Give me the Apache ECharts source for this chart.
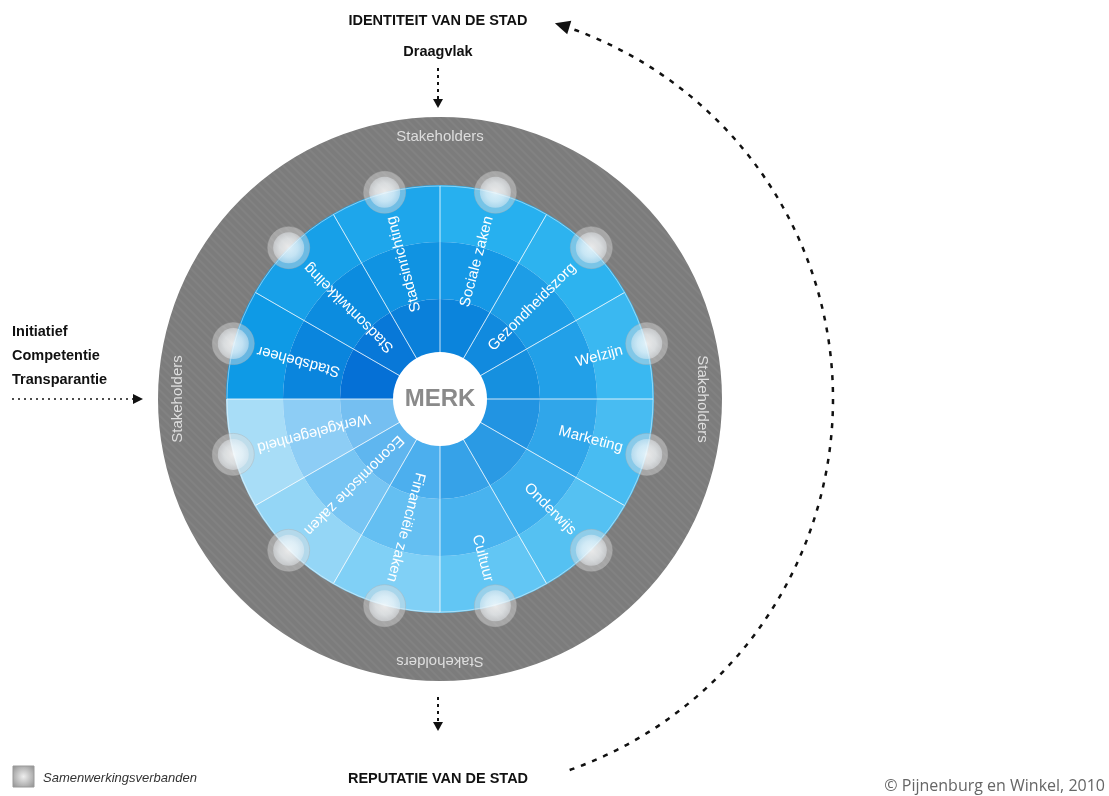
<!DOCTYPE html>
<html>
<head>
<meta charset="utf-8">
<script src="https://cdn.jsdelivr.net/npm/echarts@6/dist/echarts.min.js"></script>
<style>
  html, body { margin: 0; padding: 0; background: #ffffff; }
  #chart { width: 1109px; height: 796px; }
</style>
</head>
<body>
<div id="chart"></div>
<script>
// ---------- DATA ----------
const segments = ['Sociale zaken', 'Gezondheidszorg', 'Welzijn', 'Marketing', 'Onderwijs', 'Cultuur',
  'Financiële zaken', 'Economische zaken', 'Werkgelegenheid', 'Stadsbeheer', 'Stadsontwikkeling', 'Stadsinrichting'];
const segmentShare = [1, 1, 1, 1, 1, 1, 1, 1, 1, 1, 1, 1];
const stakeholderSides = ['Stakeholders', 'Stakeholders', 'Stakeholders', 'Stakeholders'];
const stakeholderShare = [1, 1, 1, 1];
const centerLabel = 'MERK';
const drivers = ['Initiatief', 'Competentie', 'Transparantie'];
const topTitle = 'IDENTITEIT VAN DE STAD';
const topSub = 'Draagvlak';
const bottomTitle = 'REPUTATIE VAN DE STAD';
const legendLabel = 'Samenwerkingsverbanden';
const credit = '\u00A9 Pijnenburg en Winkel, 2010';
// node level (one partnership node per segment, on the disc rim)
const nodeLevel = [214, 214, 214, 214, 214, 214, 214, 214, 214, 214, 214, 214];

// ---------- STYLE ----------
const innerColors = ['#0b84dc', '#118ade', '#1690df', '#2294e2', '#2a9ae4', '#36a2e8',
  '#4cafee', '#5fb6ef', '#75bff1', '#0570d6', '#0878d8', '#0a80da'];
const midColors = ['#1598e6', '#1d9de6', '#22a0e8', '#30a6ea', '#3caeed', '#48b3ef',
  '#64bff2', '#77c5f3', '#8dcdf5', '#0a85dd', '#0c8cdf', '#1093e2'];
const outerColors = ['#27b0ef', '#2db3ef', '#3ab8f1', '#48bcf2', '#55c1f2', '#62c6f4',
  '#80d0f6', '#94d6f6', '#a8ddf7', '#0e9ae6', '#17a0e8', '#1ea6eb'];

const CX = 440, CY = 399;
const FONT = '"Liberation Sans", Arial, Helvetica, sans-serif';

function band(name, radius, colors) {
  return {
    type: 'pie', name: name, silent: true, center: [CX, CY], radius: radius,
    startAngle: 90, clockwise: true, animation: false,
    label: { show: false }, labelLine: { show: false },
    data: segments.map((s, i) => ({ name: s, value: segmentShare[i], itemStyle: { color: colors[i] } }))
  };
}

const series = [
  {
    type: 'pie', name: 'ring', silent: true, center: [CX, CY], radius: [212, 282],
    startAngle: 90, animation: false, label: { show: false }, labelLine: { show: false },
    data: [{ name: 'ring', value: 1, itemStyle: {
      color: '#7c7c7c',
      decal: { symbol: 'rect', symbolSize: 1, dashArrayX: [1, 0], dashArrayY: [2, 4],
        rotation: Math.PI / 4, color: 'rgba(255,255,255,0.045)' }
    } }]
  },
  band('outer', [157, 214], outerColors),
  band('mid', [100, 157], midColors),
  band('inner', [46, 100], innerColors),
  {
    type: 'pie', name: 'dividers', silent: true, center: [CX, CY], radius: [46, 213],
    startAngle: 90, animation: false, label: { show: false }, labelLine: { show: false },
    itemStyle: { color: 'rgba(0,0,0,0)', borderColor: 'rgba(255,255,255,0.45)', borderWidth: 1 },
    data: segments.map((s, i) => ({ name: s, value: segmentShare[i] }))
  },
  {
    type: 'pie', name: 'labels', silent: true, center: [CX, CY], radius: [46, 186],
    startAngle: 90, animation: false, labelLine: { show: false },
    itemStyle: { color: 'rgba(0,0,0,0)' },
    label: {
      show: true, position: 'inside', formatter: '{t|{b}}',
      rich: { t: { width: 140, align: 'right', color: '#ffffff', fontSize: 15, fontFamily: FONT } }
    },
    data: segments.map((s, i) => ({
      name: s, value: segmentShare[i],
      label: { rotate: 90 - (15 + 30 * i) }
    }))
  },
  {
    type: 'pie', name: 'stakeholders', silent: true, center: [CX, CY], radius: [236, 282],
    startAngle: 135, animation: false, labelLine: { show: false },
    itemStyle: { color: 'rgba(0,0,0,0)' },
    label: { show: true, position: 'inside', color: '#dedede', fontSize: 15, fontFamily: FONT },
    data: stakeholderSides.map((s, i) => ({ name: s, value: stakeholderShare[i], label: { rotate: -90 * i } }))
  },
  {
    type: 'pie', name: 'core', silent: true, center: [CX, CY], radius: [0, 47],
    animation: false, labelLine: { show: false },
    itemStyle: { color: '#ffffff' },
    label: { show: true, position: 'center', color: '#8a8a8a', fontSize: 24, fontWeight: 'bold', fontFamily: FONT },
    data: [{ name: centerLabel, value: 1 }]
  },
  {
    type: 'scatter', coordinateSystem: 'polar', silent: true, animation: false,
    symbol: 'circle', symbolSize: 42,
    itemStyle: { color: 'rgba(220,220,220,0.55)', borderColor: 'rgba(175,175,175,0.5)', borderWidth: 1 },
    data: segments.map((s, i) => [nodeLevel[i], s]), z: 5
  },
  {
    type: 'scatter', coordinateSystem: 'polar', silent: true, animation: false,
    symbol: 'circle', symbolSize: 31,
    itemStyle: {
      color: { type: 'radial', x: 0.5, y: 0.5, r: 0.5, colorStops: [
        { offset: 0, color: 'rgba(255,255,255,0.95)' },
        { offset: 0.6, color: 'rgba(245,250,253,0.8)' },
        { offset: 1, color: 'rgba(235,240,245,0.55)' }] }
    },
    data: segments.map((s, i) => [nodeLevel[i], s]), z: 6
  }
];

// ---------- decorations ----------
const g = [];
function txt(x, y, text, font, fill, align) {
  g.push({ type: 'text', x: x, y: y, silent: true, z: 10,
    style: { text: text, font: font, fill: fill, align: align || 'center', textAlign: align || 'center',
      verticalAlign: 'middle', textVerticalAlign: 'middle' } });
}
function line(x1, y1, x2, y2, dash, w) {
  g.push({ type: 'line', silent: true, z: 10, shape: { x1, y1, x2, y2 },
    style: { stroke: '#111', lineWidth: w, lineDash: dash } });
}
function tri(pts) {
  g.push({ type: 'polygon', silent: true, z: 10, shape: { points: pts }, style: { fill: '#111' } });
}
const BOLD = 'bold 14.5px ' + FONT;
txt(438, 21, topTitle, BOLD, '#111');
txt(438, 52, topSub, BOLD, '#111');
line(438, 68, 438, 100, [3, 4], 2);
tri([[438, 108], [433, 99], [443, 99]]);
drivers.forEach((d, i) => txt(12, 332 + 24 * i, d, BOLD, '#111', 'left'));
line(12, 399, 134, 399, [2, 4], 1.6);
tri([[143, 399], [133, 394], [133, 404]]);
line(438, 697, 438, 723, [3, 4], 2);
tri([[438, 731], [433, 722], [443, 722]]);
txt(438, 779, bottomTitle, BOLD, '#111');

// dashed return arc
const R = 393, D = Math.PI / 180;
g.push({ type: 'arc', silent: true, z: 10,
  shape: { cx: CX, cy: CY, r: R, startAngle: (20 - 90) * D, endAngle: (161 - 90) * D, clockwise: true },
  style: { stroke: '#111', lineWidth: 2.5, lineDash: [5, 7], fill: null } });
(function () {
  const th = 17 * D;
  const tip = [CX + R * Math.sin(th), CY - R * Math.cos(th)];
  const d = [-Math.cos(th), -Math.sin(th)];
  const n = [d[1], -d[0]];
  const b = [tip[0] - d[0] * 15, tip[1] - d[1] * 15];
  tri([tip, [b[0] + n[0] * 7, b[1] + n[1] * 7], [b[0] - n[0] * 7, b[1] - n[1] * 7]]);
})();

// legend
g.push({ type: 'rect', silent: true, z: 10, shape: { x: 13, y: 766, width: 21, height: 21 },
  style: { stroke: '#9a9a9a', lineWidth: 1,
    fill: { type: 'radial', x: 0.5, y: 0.5, r: 0.7, colorStops: [
      { offset: 0, color: '#eeeeee' }, { offset: 1, color: '#8c8c8c' }] } } });
txt(43, 778, legendLabel, 'italic 13px ' + FONT, '#333', 'left');
txt(1105, 786, credit, '16px "Open Sans", "Noto Sans", sans-serif', '#666', 'right');

const chart = echarts.init(document.getElementById('chart'), null, { renderer: 'canvas' });
chart.setOption({
  backgroundColor: '#ffffff',
  animation: false,
  polar: { center: [CX, CY], radius: 282 },
  angleAxis: { type: 'category', data: segments, startAngle: 90, clockwise: true, boundaryGap: true, show: false },
  radiusAxis: { type: 'value', min: 0, max: 282, show: false },
  series: series,
  graphic: g
});
</script>
</body>
</html>
